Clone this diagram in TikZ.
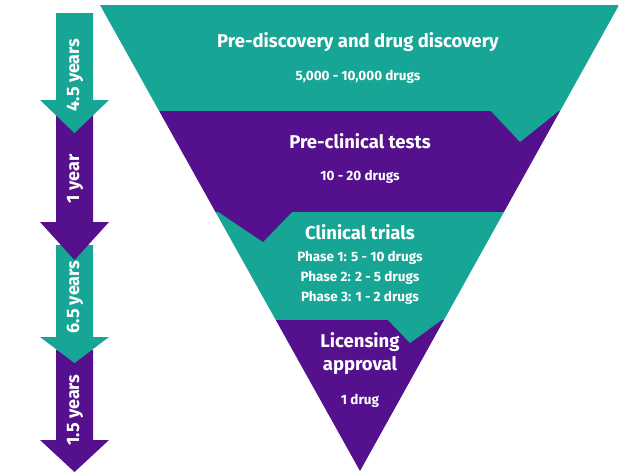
\documentclass[tikz,border=0pt]{standalone}
\usepackage{fontspec}
\setmainfont{Fira Sans}
\usetikzlibrary{shapes.arrows}
\definecolor{tealc}{HTML}{17A596}
\definecolor{purplec}{HTML}{55118D}
\tikzset{
  title/.style={text=white,font=\bfseries\fontsize{18.5}{23}\selectfont},
  count/.style={text=white,font=\bfseries\fontsize{13.5}{20}\selectfont,align=center},
  years/.style={text=white,font=\bfseries\fontsize{18}{20}\selectfont,rotate=90}
}
% time arrow: from, to, head start, colour
\newcommand{\timearrow}[4]{\fill[#4] (56,#1) -- (93,#1) -- (93,#3) -- (109,#3) -- (74.5,#2) -- (40,#3) -- (56,#3) -- cycle;}
\begin{document}
\begin{tikzpicture}[x=1pt,y=-1pt]
\useasboundingbox (0,0) rectangle (620,475);
% time arrows (lower first so upper heads overlap)
\timearrow{350}{472}{440}{purplec}
\timearrow{245}{363}{337}{tealc}
\timearrow{110}{260}{222}{purplec}
\timearrow{13}{133}{100}{tealc}
\node[years] (t1) at (75,75) {4.5 years};
\node[years] (t2) at (75,179) {1 year};
\node[years] (t3) at (75,297) {6.5 years};
\node[years] (t4) at (75,410) {1.5 years};
% funnel
\begin{scope}
\clip (100,5) -- (619,5) -- (360,471) -- cycle;
\fill[tealc] (100,5) rectangle (619,111);
\fill[purplec] (100,111) rectangle (619,212);
\fill[tealc] (490,110) -- (560,110) -- (520,142) -- cycle;
\fill[tealc] (100,212) rectangle (619,320);
\fill[purplec] (217,211) -- (293,211) -- (263,242) -- cycle;
\fill[purplec] (100,320) rectangle (619,475);
\fill[tealc] (387,319) -- (443,319) -- (410,343) -- cycle;
\end{scope}
% stage texts
\node[title] (s1) at (358,42) {Pre-discovery and drug discovery};
\node[count] (c1) at (358,77) {5,000 - 10,000 drugs};
\node[title] (s2) at (360,141) {Pre-clinical tests};
\node[count] (c2) at (360,177) {10 - 20 drugs};
\node[title] (s3) at (360,232) {Clinical trials};
\node[count] (c3) at (360,278) {Phase 1: 5 - 10 drugs\\Phase 2: 2 - 5 drugs\\Phase 3: 1 - 2 drugs};
\node[title,align=center] (s4) at (360,354) {Licensing\\approval};
\node[count] (c4) at (360,401) {1 drug};
\end{tikzpicture}
\end{document}
